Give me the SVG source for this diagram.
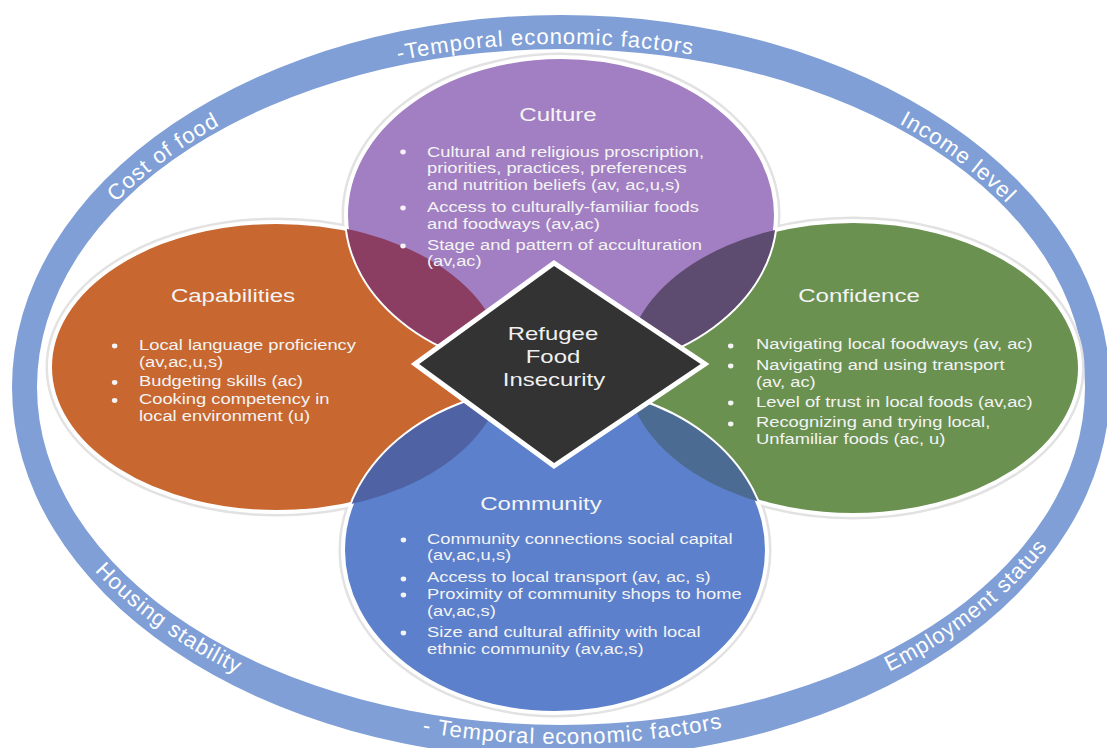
<svg xmlns="http://www.w3.org/2000/svg" width="1107" height="748" viewBox="0 0 1107 748">
<defs>
<style>
.ring{fill:#809fd6;fill-rule:evenodd}
.rl{font-family:"Liberation Sans",Arial,sans-serif;font-size:22px;fill:#ffffff;letter-spacing:1px}
.ttl{font-family:"Liberation Sans",Arial,sans-serif;font-size:18.5px;fill:#f4f4f4;text-anchor:middle}
.bd{font-family:"Liberation Sans",Arial,sans-serif;font-size:14px;fill:#f4f4f4}
.ctr{font-family:"Liberation Sans",Arial,sans-serif;font-size:18px;fill:#f0f0f0;text-anchor:middle}
.bul{fill:#f4f4f4}
.shadow{fill:none;stroke:#e2e2e2;stroke-width:9}
.rim{stroke:#ffffff;stroke-width:4}
</style>
<path id="topArc" d="M 33 387 A 528 343 0 0 1 1089 387"/>
<path id="botArc" d="M 17 387 A 544 357 0 0 0 1105 387"/>
<clipPath id="cCult"><ellipse cx="561" cy="215" rx="215" ry="158"/></clipPath>
<clipPath id="cComm"><ellipse cx="555" cy="550" rx="212" ry="163"/></clipPath>
</defs>
<rect width="1107" height="748" fill="#ffffff"/>
<g id="ring">
<path class="ring" d="M 12 387 A 549 372 0 1 0 1110 387 A 549 372 0 1 0 12 387 Z M 37 387 A 524 338 0 1 0 1085 387 A 524 338 0 1 0 37 387 Z"/>
<text class="rl"><textPath href="#topArc" startOffset="273" text-anchor="middle">Cost of food</textPath></text>
<text class="rl"><textPath href="#topArc" startOffset="676" text-anchor="middle">-Temporal economic factors</textPath></text>
<text class="rl"><textPath href="#topArc" startOffset="1110" text-anchor="middle">Income level</textPath></text>
<text class="rl"><textPath href="#botArc" startOffset="293" text-anchor="middle">Housing stability</textPath></text>
<text class="rl"><textPath href="#botArc" startOffset="727" text-anchor="middle">- Temporal economic factors</textPath></text>
<text class="rl"><textPath href="#botArc" startOffset="1156" text-anchor="middle">Employment status</textPath></text>
</g>
<g id="shadows">
<ellipse class="shadow" cx="277" cy="367" rx="227" ry="145"/>
<ellipse class="shadow" cx="853" cy="368" rx="227" ry="147"/>
<ellipse class="shadow" cx="561" cy="215" rx="215" ry="158"/>
<ellipse class="shadow" cx="555" cy="550" rx="212" ry="163"/>
</g>
<g id="capabilities">
<ellipse class="rim" cx="277" cy="367" rx="227" ry="145" fill="#c8672f"/>
</g>
<g id="confidence">
<ellipse class="rim" cx="853" cy="368" rx="227" ry="147" fill="#6b9151"/>
</g>
<g id="culture">
<ellipse class="rim" cx="561" cy="215" rx="215" ry="158" fill="#a27fc2"/>
</g>
<g id="community">
<ellipse class="rim" cx="555" cy="550" rx="212" ry="163" fill="#5c80cb"/>
</g>
<g id="overlaps">
<ellipse cx="277" cy="367" rx="227" ry="145" fill="#8c3d62" clip-path="url(#cCult)"/>
<ellipse cx="853" cy="368" rx="227" ry="147" fill="#5e4b70" clip-path="url(#cCult)"/>
<ellipse cx="277" cy="367" rx="227" ry="145" fill="#4f62a4" clip-path="url(#cComm)"/>
<ellipse cx="853" cy="368" rx="227" ry="147" fill="#4b6b92" clip-path="url(#cComm)"/>
</g>
<g id="culture-text">
<text class="ttl" transform="translate(558 0) scale(1.3 1)" x="0" y="121">Culture</text>
<g transform="translate(427 0) scale(1.31 1)">
<ellipse class="bul" cx="-18.3" cy="152" rx="2.1" ry="2.4"/>
<ellipse class="bul" cx="-18.3" cy="208" rx="2.1" ry="2.4"/>
<ellipse class="bul" cx="-18.3" cy="246" rx="2.1" ry="2.4"/>
<text class="bd" x="0" y="157">Cultural and religious proscription,</text>
<text class="bd" x="0" y="173.5">priorities, practices, preferences</text>
<text class="bd" x="0" y="190">and nutrition beliefs (av, ac,u,s)</text>
<text class="bd" x="0" y="212.5">Access to culturally-familiar foods</text>
<text class="bd" x="0" y="229">and foodways (av,ac)</text>
<text class="bd" x="0" y="250">Stage and pattern of acculturation</text>
<text class="bd" x="0" y="266">(av,ac)</text>
</g>
</g>
<g id="capabilities-text">
<text class="ttl" transform="translate(233 0) scale(1.3 1)" x="0" y="302">Capabilities</text>
<g transform="translate(139 0) scale(1.31 1)">
<ellipse class="bul" cx="-18.6" cy="346" rx="2.1" ry="2.4"/>
<ellipse class="bul" cx="-18.6" cy="382.5" rx="2.1" ry="2.4"/>
<ellipse class="bul" cx="-18.6" cy="400.5" rx="2.1" ry="2.4"/>
<text class="bd" x="0" y="350.5">Local language proficiency</text>
<text class="bd" x="0" y="367.5">(av,ac,u,s)</text>
<text class="bd" x="0" y="386.5">Budgeting skills (ac)</text>
<text class="bd" x="0" y="404">Cooking competency in</text>
<text class="bd" x="0" y="421.5">local environment (u)</text>
</g>
</g>
<g id="confidence-text">
<text class="ttl" transform="translate(859 0) scale(1.3 1)" x="0" y="302">Confidence</text>
<g transform="translate(756 0) scale(1.31 1)">
<ellipse class="bul" cx="-19.3" cy="346" rx="2.1" ry="2.4"/>
<ellipse class="bul" cx="-19.3" cy="366" rx="2.1" ry="2.4"/>
<ellipse class="bul" cx="-19.3" cy="403" rx="2.1" ry="2.4"/>
<ellipse class="bul" cx="-19.3" cy="424" rx="2.1" ry="2.4"/>
<text class="bd" x="0" y="349">Navigating local foodways (av, ac)</text>
<text class="bd" x="0" y="370">Navigating and using transport</text>
<text class="bd" x="0" y="387">(av, ac)</text>
<text class="bd" x="0" y="407">Level of trust in local foods (av,ac)</text>
<text class="bd" x="0" y="427">Recognizing and trying local,</text>
<text class="bd" x="0" y="444.5">Unfamiliar foods (ac, u)</text>
</g>
</g>
<g id="community-text">
<text class="ttl" transform="translate(541 0) scale(1.3 1)" x="0" y="510.5">Community</text>
<g transform="translate(427 0) scale(1.31 1)">
<ellipse class="bul" cx="-18" cy="540" rx="2.1" ry="2.4"/>
<ellipse class="bul" cx="-18" cy="579" rx="2.1" ry="2.4"/>
<ellipse class="bul" cx="-18" cy="595" rx="2.1" ry="2.4"/>
<ellipse class="bul" cx="-18" cy="633" rx="2.1" ry="2.4"/>
<text class="bd" x="0" y="544">Community connections social capital</text>
<text class="bd" x="0" y="560.5">(av,ac,u,s)</text>
<text class="bd" x="0" y="582.5">Access to local transport (av, ac, s)</text>
<text class="bd" x="0" y="599.5">Proximity of community shops to home</text>
<text class="bd" x="0" y="616.5">(av,ac,s)</text>
<text class="bd" x="0" y="637">Size and cultural affinity with local</text>
<text class="bd" x="0" y="654">ethnic community (av,ac,s)</text>
</g>
</g>
<g id="center">
<polygon points="554,263 705,364 554,466 415,364" fill="#333333" stroke="#ffffff" stroke-width="5" stroke-linejoin="miter"/>
<text class="ctr" transform="translate(553 0) scale(1.33 1)" x="0" y="340">Refugee</text>
<text class="ctr" transform="translate(553 0) scale(1.33 1)" x="0" y="363">Food</text>
<text class="ctr" transform="translate(554 0) scale(1.33 1)" x="0" y="386">Insecurity</text>
</g>
</svg>
